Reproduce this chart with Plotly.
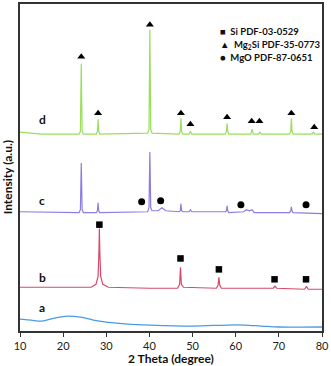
import plotly.graph_objects as go

# XRD patterns, intensity in arbitrary (offset) units
a_x = [10, 12.5, 15, 18, 21, 24, 27, 30, 35, 40, 50, 58, 62, 66, 70, 80]
a_y = [12, 11, 10, 13, 15, 14, 11, 9, 7, 6, 5, 6, 6, 5, 4, 4]

b_x = [10, 20, 26.5, 27.6, 28.1, 28.3, 28.4, 28.5, 28.7, 29.2, 30.5, 40, 46.5, 47.0, 47.2, 47.4, 47.9,
       55.5, 55.9, 56.1, 56.3, 56.7, 68.7, 69.1, 69.5, 76.0, 76.4, 76.8, 80]
b_y = [44, 44, 44, 47, 55, 80, 103, 80, 55, 47, 44, 43, 43, 47, 64, 47, 44,
       43, 46, 54, 46, 43, 43, 45, 43, 42, 45, 42, 42]

c_x = [10, 20, 23.7, 24.0, 24.2, 24.4, 24.7, 27.7, 27.95, 28.1, 28.25, 28.5, 39.6, 39.9, 40.1, 40.3, 40.6,
       42.0, 42.9, 43.8, 46.9, 47.15, 47.3, 47.45, 47.7, 49.2, 49.5, 49.8, 57.6, 57.85, 58.0, 58.15, 58.4,
       61.8, 62.5, 63.2, 63.8, 64.3, 72.5, 72.75, 72.9, 73.05, 73.3, 80]
c_y = [120, 119, 119, 122, 169, 122, 119, 119, 121, 129, 121, 119, 120, 124, 180, 124, 121,
       121, 124, 121, 120, 121, 128, 121, 120, 120, 122, 120, 120, 121, 126, 121, 119,
       120, 122, 121, 122, 119, 119, 121, 125, 121, 119, 118]

d_x = [10, 15, 20, 23.7, 24.0, 24.2, 24.4, 24.7, 27.7, 27.95, 28.1, 28.25, 28.5, 39.6, 39.9, 40.1, 40.3, 40.6,
       46.9, 47.15, 47.3, 47.45, 47.7, 49.2, 49.5, 49.8, 57.6, 57.85, 58.0, 58.15, 58.4, 63.5, 63.8, 64.1,
       65.3, 65.6, 65.9, 72.5, 72.75, 72.9, 73.05, 73.3, 77.7, 78.0, 78.3, 80]
d_y = [200, 198, 198, 198, 201, 269, 201, 198, 198, 201, 213, 201, 198, 199, 203, 303, 203, 199,
       198, 201, 214, 201, 198, 198, 201, 198, 198, 201, 209, 201, 198, 198, 203, 198,
       198, 200, 198, 198, 201, 214, 201, 198, 198, 200, 198, 198]

# phase markers
si_x = [28.4, 47.2, 56.1, 69.0, 76.3]
si_y = [107, 73, 62, 52, 52]
mg2si_x = [24.2, 28.1, 40.1, 47.3, 49.5, 58.0, 63.7, 65.5, 72.9, 78.2]
mg2si_y = [276, 219, 308, 219, 208, 215, 211, 211, 219, 205]
mgo_x = [38.2, 42.6, 61.2, 76.3]
mgo_y = [130, 131, 127, 127]

labels = ['a', 'b', 'c', 'd']
label_x = [15.1, 15.1, 15.1, 15.1]
label_y = [24, 54, 131, 213]

legend_text = ['■&nbsp;&nbsp;Si PDF-03-0529', '▲&nbsp;&nbsp;Mg<sub>2</sub>Si PDF-35-0773', '●&nbsp;&nbsp;MgO PDF-87-0651']

fnt = 'Lato'

fig = go.Figure()
fig.add_trace(go.Scatter(x=a_x, y=a_y, mode='lines', line=dict(color='#4a9be6', width=1.3, shape='spline')))
fig.add_trace(go.Scatter(x=b_x, y=b_y, mode='lines', line=dict(color='#d6496a', width=1.2)))
fig.add_trace(go.Scatter(x=c_x, y=c_y, mode='lines', line=dict(color='#8c7de2', width=1.2)))
fig.add_trace(go.Scatter(x=d_x, y=d_y, mode='lines', line=dict(color='#9ade5c', width=1.2)))

fig.add_trace(go.Scatter(x=si_x, y=si_y, mode='markers', marker=dict(symbol='square', size=6.5, color='black')))
fig.add_trace(go.Scatter(x=mg2si_x, y=mg2si_y, mode='markers', marker=dict(symbol='triangle-up', size=7, color='black')))
fig.add_trace(go.Scatter(x=mgo_x, y=mgo_y, mode='markers', marker=dict(symbol='circle', size=7, color='black')))

for t, lx, ly in zip(labels, label_x, label_y):
    fig.add_annotation(x=lx, y=ly, text='<b>' + t + '</b>', showarrow=False,
                       font=dict(family=fnt, size=12, color='#111'))

for i, t in enumerate(legend_text):
    fig.add_annotation(x=0.655, y=0.94 - i * 0.041, xref='paper', yref='paper', xanchor='left',
                       text='<b>' + t + '</b>', showarrow=False,
                       font=dict(family=fnt, size=9.5, color='#111'))

fig.add_annotation(x=-0.043, y=0.47, xref='paper', yref='paper', xanchor='center', yanchor='middle',
                   text='<b>Intensity (a.u.)</b>',
                   textangle=-90, showarrow=False, font=dict(family=fnt, size=12, color='#111'))

fig.update_layout(
    width=331, height=366,
    margin=dict(l=20, r=6, t=2, b=35),
    paper_bgcolor='white', plot_bgcolor='white',
    showlegend=False,
    xaxis=dict(range=[10, 80], dtick=10, showgrid=False, zeroline=False, ticks='outside', ticklen=4,
               tickcolor='#333', showline=True, linecolor='#333', linewidth=1.5, mirror=True,
               ticklabeloverflow='allow',
               tickfont=dict(family=fnt, size=11, color='#222'),
               title=dict(text='<b>2 Theta (degree)</b>', font=dict(family=fnt, size=12, color='#111'), standoff=2)),
    yaxis=dict(range=[0, 329], showgrid=False, zeroline=False, showticklabels=False, ticks='',
               showline=True, linecolor='#333', linewidth=1.5, mirror=True),
)

fig.write_html('out.html', config={'displayModeBar': False},
               post_script="document.body.style.margin='0';")
